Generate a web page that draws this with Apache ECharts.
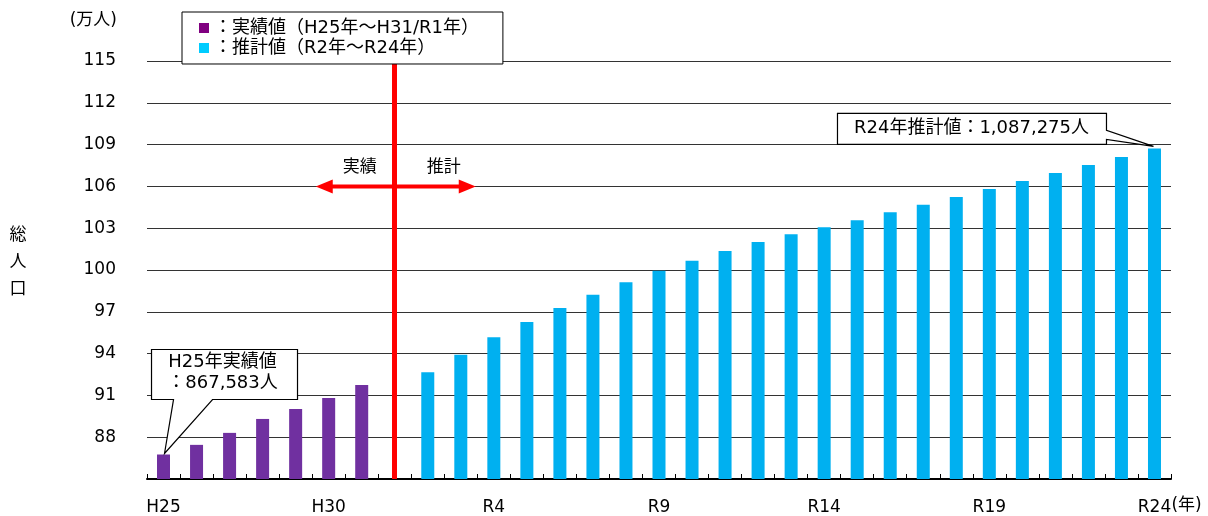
<!DOCTYPE html>
<html><head><meta charset="utf-8">
<script src="https://cdn.jsdelivr.net/npm/echarts@6/dist/echarts.min.js"></script>
<style>html,body{margin:0;padding:0;background:#fff}#c{width:1208px;height:516px}</style>
</head><body><div id="c"></div>
<script>
// ---- data ----
const actualCategories = ['H25','H26','H27','H28','H29','H30','H31/R1'];
const gapCategory = [''];
const forecastCategories = ['R2','R3','R4','R5','R6','R7','R8','R9','R10','R11','R12','R13','R14','R15','R16','R17','R18','R19','R20','R21','R22','R23','R24'];
const actualValues = [86.7583, 87.45, 88.31, 89.31, 90.03, 90.82, 91.75];
const forecastValues = [92.66, 93.92, 95.17, 96.27, 97.27, 98.23, 99.12, 99.95, 100.67, 101.36, 102.01, 102.56, 103.06, 103.57, 104.14, 104.68, 105.24, 105.81, 106.38, 106.97, 107.54, 108.11, 108.7275];
const yMin = 85, yMax = 115, yInterval = 3;
const actualName = '：実績値（H25年～H31/R1年）';
const forecastName = '：推計値（R2年～R24年）';
const firstLabel = 'H25年実績値';
const firstValueText = '：867,583人';
const lastLabel = 'R24年推計値：1,087,275人';

const categories = actualCategories.concat(gapCategory, forecastCategories);
const nGapEnd = actualCategories.length + gapCategory.length;
const actualData = categories.map((c, i) => i < actualValues.length ? actualValues[i] : '-');
const forecastData = categories.map((c, i) => i >= nGapEnd ? forecastValues[i - nGapEnd] : '-');
const dividerIndex = actualCategories.length;

const FONT = "'DejaVu Sans', 'Noto Sans CJK JP', sans-serif";
const chart = echarts.init(document.getElementById('c'), null, {renderer: 'canvas'});

chart.setOption({
  animation: false,
  backgroundColor: '#fff',
  textStyle: {fontFamily: FONT},
  grid: {left: 147, right: 37, top: 61, bottom: 36, containLabel: false},
  legend: {
    left: 182, top: 12, orient: 'vertical',
    backgroundColor: '#fff', borderColor: '#000', borderWidth: 1,
    padding: [7, 24, 7, 17], itemGap: 2,
    itemWidth: 10, itemHeight: 10, icon: 'rect',
    textStyle: {fontFamily: FONT, fontSize: 18, color: '#000'},
    data: [
      {name: actualName, itemStyle: {color: '#800080'}},
      {name: forecastName, itemStyle: {color: '#00CCFF'}}
    ],
    selectedMode: false, z: 10
  },
  xAxis: {
    type: 'category', data: categories,
    axisLine: {lineStyle: {color: '#000', width: 2}},
    axisTick: {show: true, inside: true, length: 5, interval: 0, lineStyle: {color: '#000', width: 1}},
    axisLabel: {interval: 4, color: '#000', fontSize: 17, margin: 20, fontFamily: FONT},
    splitLine: {show: false}
  },
  yAxis: {
    type: 'value', min: yMin, max: yMax, interval: yInterval,
    axisLine: {show: false}, axisTick: {show: false},
    axisLabel: {showMinLabel: false, color: '#000', fontSize: 17, margin: 31, fontFamily: FONT},
    splitLine: {lineStyle: {color: '#333', width: 1.2}}
  },
  series: [
    {
      name: actualName, type: 'bar', data: actualData, stack: 's',
      barWidth: 13, itemStyle: {color: '#7030A0'},
      markLine: {
        silent: true, symbol: ['none', 'none'], label: {show: false},
        lineStyle: {color: '#FF0000', width: 5, type: 'solid'},
        data: [{xAxis: dividerIndex}]
      }
    },
    {
      name: forecastName, type: 'bar', data: forecastData, stack: 's',
      barWidth: 13, itemStyle: {color: '#00B0F0'}
    }
  ]
});

function px(i, v) { return chart.convertToPixel({xAxisIndex: 0, yAxisIndex: 0}, [i, v]); }

const div = px(dividerIndex, 106);
const dx = div[0], dy = div[1];
const t0 = px(0, actualValues[0]);
const lastIdx = categories.length - 1;
const tN = px(lastIdx, forecastValues[forecastValues.length - 1]);
const axisY = px(0, yMin)[1];

const red = '#FF0000';
const txt = (x, y, s, opts) => Object.assign({type: 'text', x: x, y: y, z: 20,
  style: Object.assign({text: s, fill: '#000', font: '18px ' + FONT, textAlign: 'center', textVerticalAlign: 'middle'}, opts || {})});

chart.setOption({
  graphic: [
    // axis titles
    txt(117, 21, '(万人)', {textAlign: 'right', font: '17px ' + FONT}),
    txt(18, 263, '総\n人\n口', {lineHeight: 27, font: '17px ' + FONT}),
    txt(tN[0] + 17, axisY + 27, '(年)', {textAlign: 'left', font: '17px ' + FONT}),
    // arrow
    {type: 'line', z: 20, shape: {x1: dx - 64, y1: dy, x2: dx + 66, y2: dy}, style: {stroke: red, lineWidth: 4}},
    {type: 'polygon', z: 20, shape: {points: [[dx - 79, dy], [dx - 62, dy - 7], [dx - 62, dy + 7]]}, style: {fill: red}},
    {type: 'polygon', z: 20, shape: {points: [[dx + 81, dy], [dx + 64, dy - 7], [dx + 64, dy + 7]]}, style: {fill: red}},
    txt(dx - 35, dy - 19, '実績', {font: '17px ' + FONT}),
    txt(dx + 49, dy - 19, '推計', {font: '17px ' + FONT}),
    // H25 callout
    {type: 'polygon', z: 20, shape: {points: [
      [t0[0] - 12, t0[1] - 105], [t0[0] + 134, t0[1] - 105], [t0[0] + 134, t0[1] - 55],
      [t0[0] + 49, t0[1] - 55], [t0[0] + 1, t0[1] - 1], [t0[0] + 10, t0[1] - 55], [t0[0] - 12, t0[1] - 55]
    ]}, style: {fill: '#fff', stroke: '#000', lineWidth: 1.2}},
    txt(t0[0] + 59, t0[1] - 92, firstLabel),
    txt(t0[0] + 59, t0[1] - 71, firstValueText),
    // R24 callout
    {type: 'polygon', z: 20, shape: {points: [
      [tN[0] - 317, tN[1] - 35], [tN[0] - 48, tN[1] - 35], [tN[0] - 48, tN[1] - 18],
      [tN[0] - 1, tN[1] - 2], [tN[0] - 48, tN[1] - 9], [tN[0] - 48, tN[1] - 4], [tN[0] - 317, tN[1] - 4]
    ]}, style: {fill: '#fff', stroke: '#000', lineWidth: 1.2}},
    txt(tN[0] - 183, tN[1] - 20, lastLabel)
  ]
});
</script></body></html>
